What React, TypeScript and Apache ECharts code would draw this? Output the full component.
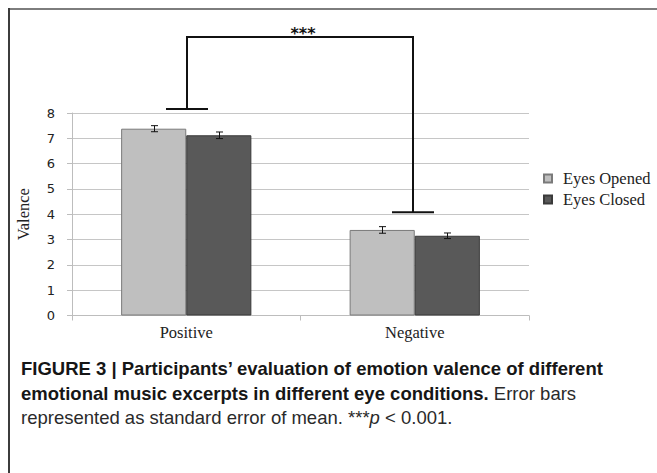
import React, { useEffect, useRef } from 'react';
import * as echarts from 'echarts';

const categories = ['Positive', 'Negative'];
const seriesNames = ['Eyes Opened', 'Eyes Closed'];
const eyesOpened = [7.38, 3.38];
const eyesClosed = [7.12, 3.15];
const eyesOpenedSE = [0.12, 0.13];
const eyesClosedSE = [0.13, 0.11];
const yMin = 0;
const yMax = 8;
const yInterval = 1;
// significance bracket: [category index, cap value] for each end, top value, label
const bracketEnds = [
  [0, 8.16],
  [1, 4.08],
];
const bracketTop = 11.0;
const bracketLabel = '***';
const captionLines = [
  'FIGURE 3 | Participants’ evaluation of emotion valence of different',
  'emotional music excerpts in different eye conditions.',
  ' Error bars',
  'represented as standard error of mean. ***',
  'p',
  ' < 0.001.',
];

const CATEGORY_GAP = 0.43;
const SERIF = '"Liberation Serif", "Times New Roman", serif';
const SANS = '"DejaVu Sans", Verdana, sans-serif';
const CAPTION = '"Liberation Sans", Arial, sans-serif';

function errorRender(sign: number) {
  return (params: any, api: any) => {
    const x = api.value(0);
    const v = api.value(1);
    const se = api.value(2);
    const band = api.size([1, 0])[0];
    const barW = (band * (1 - CATEGORY_GAP)) / 2;
    const top = api.coord([x, v + se]);
    const bot = api.coord([x, v - se]);
    const cx = Math.round(top[0] + (sign * barW) / 2) + 0.5;
    const cap = 3.5;
    const st = { stroke: '#111', lineWidth: 1 };
    return {
      type: 'group',
      children: [
        { type: 'line', shape: { x1: cx, y1: top[1], x2: cx, y2: bot[1] }, style: st },
        { type: 'line', shape: { x1: cx - cap, y1: top[1], x2: cx + cap, y2: top[1] }, style: st },
        { type: 'line', shape: { x1: cx - cap, y1: bot[1], x2: cx + cap, y2: bot[1] }, style: st },
      ],
    };
  };
}

function bracketRender(params: any, api: any) {
  const a = api.coord([api.value(0), api.value(1)]);
  const b = api.coord([api.value(2), api.value(3)]);
  const t = api.coord([api.value(0), api.value(4)]);
  const ax = Math.round(a[0]) + 1;
  const bx = Math.round(b[0]) - 2;
  const ty = t[1];
  const capW = 21;
  const st = { stroke: '#111', lineWidth: 2, fill: 'none' };
  return {
    type: 'group',
    children: [
      {
        type: 'polyline',
        shape: { points: [[ax, a[1]], [ax, ty], [bx, ty], [bx, b[1]]] },
        style: st,
      },
      { type: 'line', shape: { x1: ax - capW, y1: a[1], x2: ax + capW, y2: a[1] }, style: st },
      { type: 'line', shape: { x1: bx - capW, y1: b[1], x2: bx + capW, y2: b[1] }, style: st },
      {
        type: 'text',
        style: {
          x: (ax + bx) / 2 + 3,
          y: ty + 4,
          text: bracketLabel,
          align: 'center',
          verticalAlign: 'bottom',
          fontFamily: SANS,
          fontWeight: 'bold',
          fontSize: 16,
          fill: '#111',
        },
      },
    ],
  };
}

export default function App() {
  const ref = useRef<HTMLDivElement>(null);

  useEffect(() => {
    document.body.style.margin = '0';
    const chart = echarts.init(ref.current!, null, { renderer: 'svg' });
    const option: any = {
      animation: false,
      backgroundColor: '#ffffff',
      grid: { left: 72, right: 128, top: 113, bottom: 157.5, containLabel: false },
      legend: {
        data: seriesNames,
        orient: 'vertical',
        left: 538,
        top: 165,
        icon: 'rect',
        itemWidth: 8,
        itemHeight: 8,
        itemGap: 4,
        selectedMode: false,
        textStyle: { fontFamily: SERIF, fontSize: 16.5, color: '#222', lineHeight: 17, padding: [0, 0, 0, 6] },
      },
      xAxis: {
        type: 'category',
        data: categories,
        axisLine: { lineStyle: { color: '#bdbdbd', width: 1 } },
        axisTick: { show: true, length: 5, lineStyle: { color: '#bdbdbd' } },
        axisLabel: { fontFamily: SERIF, fontSize: 16.5, color: '#222', margin: 8 },
        splitLine: { show: false },
      },
      yAxis: {
        type: 'value',
        min: yMin,
        max: yMax,
        interval: yInterval,
        name: 'Valence',
        nameLocation: 'middle',
        nameGap: 40,
        nameTextStyle: { fontFamily: SERIF, fontSize: 16.5, color: '#222' },
        axisLine: { show: true, lineStyle: { color: '#bdbdbd' } },
        axisTick: { show: true, length: 5, lineStyle: { color: '#bdbdbd' } },
        axisLabel: { fontFamily: SANS, fontSize: 13, color: '#222', margin: 17 },
        splitLine: { show: true, lineStyle: { color: '#c6c6c6', width: 1 } },
      },
      series: [
        {
          name: seriesNames[0],
          type: 'bar',
          data: eyesOpened,
          barGap: '0%',
          barCategoryGap: CATEGORY_GAP * 100 + '%',
          itemStyle: { color: '#bfbfbf', borderColor: '#7a7a7a', borderWidth: 1 },
          z: 2,
        },
        {
          name: seriesNames[1],
          type: 'bar',
          data: eyesClosed,
          barGap: '0%',
          barCategoryGap: CATEGORY_GAP * 100 + '%',
          itemStyle: { color: '#595959', borderColor: '#3a3a3a', borderWidth: 1 },
          z: 2,
        },
        {
          type: 'custom',
          name: 'err-opened',
          renderItem: errorRender(-1),
          data: eyesOpened.map((v, i) => [i, v, eyesOpenedSE[i]]),
          encode: { x: 0, y: 1 },
          clip: false,
          z: 5,
        },
        {
          type: 'custom',
          name: 'err-closed',
          renderItem: errorRender(1),
          data: eyesClosed.map((v, i) => [i, v, eyesClosedSE[i]]),
          encode: { x: 0, y: 1 },
          clip: false,
          z: 5,
        },
        {
          type: 'custom',
          name: 'bracket',
          renderItem: bracketRender,
          data: [[bracketEnds[0][0], bracketEnds[0][1], bracketEnds[1][0], bracketEnds[1][1], bracketTop]],
          encode: { x: 0, y: 1 },
          clip: false,
          z: 6,
        },
      ],
      graphic: [
        {
          type: 'line',
          shape: { x1: 9, y1: 9, x2: 657, y2: 9 },
          style: { stroke: '#7d7d7d', lineWidth: 2 },
          silent: true,
        },
        {
          type: 'line',
          shape: { x1: 9, y1: 8, x2: 9, y2: 473 },
          style: { stroke: '#3c3c3c', lineWidth: 2 },
          silent: true,
        },
        {
          type: 'text',
          left: 21,
          top: 359,
          silent: true,
          style: {
            text:
              '{b|' + captionLines[0] + '}\n' +
              '{b|' + captionLines[1] + '}{n|' + captionLines[2] + '}\n' +
              '{n|' + captionLines[3] + '}{i|' + captionLines[4] + '}{n|' + captionLines[5] + '}',
            rich: {
              b: { fontFamily: CAPTION, fontWeight: 'bold', fontSize: 18.5, lineHeight: 24.5, fill: '#161616' },
              n: { fontFamily: CAPTION, fontWeight: 'normal', fontSize: 18.5, lineHeight: 24.5, fill: '#2a2a2a' },
              i: { fontFamily: CAPTION, fontStyle: 'italic', fontSize: 18.5, lineHeight: 24.5, fill: '#2a2a2a' },
            },
          },
        },
      ],
    };
    chart.setOption(option);
    return () => chart.dispose();
  }, []);

  return (
    <div
      ref={ref}
      style={{ position: 'absolute', left: 0, top: 0, width: 657, height: 473, background: '#fff' }}
    />
  );
}
